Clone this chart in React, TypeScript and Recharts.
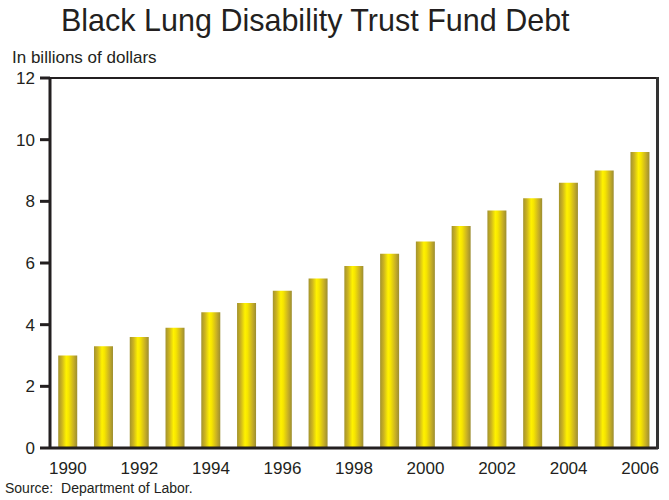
import { BarChart, Bar, XAxis, YAxis, ReferenceLine } from 'recharts';

const years = ['1990', '1991', '1992', '1993', '1994', '1995', '1996', '1997', '1998', '1999', '2000', '2001', '2002', '2003', '2004', '2005', '2006'];
const debt = [3.0, 3.3, 3.6, 3.9, 4.4, 4.7, 5.1, 5.5, 5.9, 6.3, 6.7, 7.2, 7.7, 8.1, 8.6, 9.0, 9.6];
const yTicks = [0, 2, 4, 6, 8, 10, 12];

const data = years.map((year, i) => ({ year, debt: debt[i] }));

const FONT = '"Liberation Sans", Arial, Helvetica, sans-serif';
const INK = '#231f20';

export default function App() {
  return (
    <div style={{ position: 'absolute', left: 0, top: 0, width: 669, height: 500, background: '#fff', fontFamily: FONT, color: INK }}>
      <div style={{ position: 'absolute', left: 61, top: 5, fontSize: 30.5, lineHeight: '30px', whiteSpace: 'nowrap' }}>
        Black Lung Disability Trust Fund Debt
      </div>
      <div style={{ position: 'absolute', left: 12, top: 49, fontSize: 17, lineHeight: '17px', whiteSpace: 'nowrap' }}>
        In billions of dollars
      </div>
      <div style={{ position: 'absolute', left: 5, top: 481, fontSize: 14, lineHeight: '14px', whiteSpace: 'nowrap' }}>
        Source:&nbsp; Department of Labor.
      </div>
      <BarChart
        width={669}
        height={500}
        data={data}
        margin={{ top: 78, right: 11, left: 0, bottom: 22 }}
        barCategoryGap="23%"
      >
        <defs>
          <linearGradient id="goldBar" x1="0" y1="0" x2="1" y2="0">
            <stop offset="0%" stopColor="#a3932e" />
            <stop offset="20%" stopColor="#cdb51f" />
            <stop offset="42%" stopColor="#fff200" />
            <stop offset="55%" stopColor="#f6e500" />
            <stop offset="80%" stopColor="#c9b124" />
            <stop offset="100%" stopColor="#9c8d31" />
          </linearGradient>
        </defs>
        <XAxis
          dataKey="year"
          interval={1}
          tickLine={false}
          axisLine={{ stroke: INK, strokeWidth: 3 }}
          height={30}
          tickMargin={8}
          tick={{ fill: INK, fontSize: 17, fontFamily: FONT }}
        />
        <YAxis
          domain={[0, 12]}
          ticks={yTicks}
          width={50}
          tickSize={10}
          tickMargin={5}
          tickLine={{ stroke: INK, strokeWidth: 3 }}
          axisLine={{ stroke: INK, strokeWidth: 3 }}
          tick={{ fill: INK, fontSize: 17, fontFamily: FONT }}
        />
        <ReferenceLine y={12} stroke={INK} strokeWidth={2} />
        <Bar dataKey="debt" fill="url(#goldBar)" isAnimationActive={false} />
      </BarChart>
      <div style={{ position: 'absolute', left: 656, top: 77, width: 3, height: 372, background: '#333' }} />
    </div>
  );
}
